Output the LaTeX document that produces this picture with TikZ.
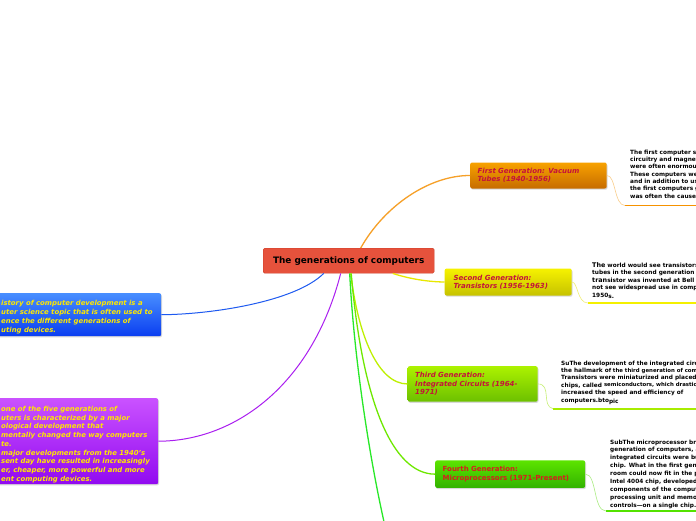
\documentclass[tikz,border=0pt]{standalone}
\usepackage{fontspec}
\setmainfont{DejaVu Sans}
\usetikzlibrary{shadows}
\definecolor{ctr}{RGB}{230,82,60}
\definecolor{ctrb}{RGB}{205,62,42}
\definecolor{lbl}{RGB}{196,18,58}
\definecolor{lblr}{RGB}{215,30,30}
\definecolor{oA}{RGB}{248,162,0}
\definecolor{oB}{RGB}{198,108,0}
\definecolor{yA}{RGB}{246,242,0}
\definecolor{yB}{RGB}{198,194,0}
\definecolor{gA}{RGB}{172,242,0}
\definecolor{gB}{RGB}{108,192,0}
\definecolor{fA}{RGB}{92,228,0}
\definecolor{fB}{RGB}{50,178,0}
\definecolor{bA}{RGB}{72,142,255}
\definecolor{bB}{RGB}{10,62,240}
\definecolor{pA}{RGB}{202,82,255}
\definecolor{pB}{RGB}{145,10,240}
\definecolor{ytxt}{RGB}{255,232,0}
\definecolor{lnO}{RGB}{246,160,40}
\definecolor{lnY}{RGB}{232,232,0}
\definecolor{lnG}{RGB}{190,240,0}
\definecolor{lnF}{RGB}{110,232,0}
\definecolor{lnV}{RGB}{40,232,40}
\definecolor{lnB}{RGB}{30,90,240}
\definecolor{lnP}{RGB}{170,30,240}
\definecolor{ulO}{RGB}{246,146,0}
\definecolor{ulY}{RGB}{244,240,0}
\definecolor{ulG}{RGB}{168,236,0}
\definecolor{ulF}{RGB}{84,226,0}
\definecolor{thO}{RGB}{250,206,140}
\definecolor{thY}{RGB}{240,238,120}
\definecolor{thG}{RGB}{200,240,120}
\definecolor{thF}{RGB}{170,236,130}
\tikzset{
  centralbox/.style={rounded corners=1.5pt, anchor=north west, fill=ctr, draw=ctrb, line width=0.4pt,
    minimum width=171pt, minimum height=25pt, inner sep=0pt, font=\fontsize{8.9}{10}\selectfont\bfseries},
  genbox/.style={rounded corners=2pt, anchor=north west, inner xsep=7.5pt, inner ysep=0pt, align=left,
    font=\fontsize{7}{8.3}\selectfont\bfseries\itshape, text=lbl,
    drop shadow={opacity=0.3,shadow xshift=0.8pt,shadow yshift=-1.2pt}},
  sidebox/.style={rounded corners=2pt, anchor=north west, inner sep=0pt,
    drop shadow={opacity=0.3,shadow xshift=0.8pt,shadow yshift=-1.2pt}},
  sidetext/.style={anchor=north west, inner sep=0pt, align=left, text=ytxt,
    font=\fontsize{6.9}{8.8}\selectfont\bfseries\itshape},
  detail/.style={anchor=north west, inner sep=0pt, align=left,
    font=\fontsize{5.8}{7.3}\selectfont\bfseries},
  mainline/.style={line width=1.3pt},
  thinline/.style={line width=0.6pt},
  underl/.style={line width=1.8pt}
}
\newcommand{\bigpart}[1]{{\fontsize{6.4}{7.3}\selectfont #1}}
\newcommand{\smallpart}[1]{{\fontsize{5.4}{7.3}\selectfont #1}}
\begin{document}
\begin{tikzpicture}[x=1pt,y=-1pt]
\useasboundingbox (0,0) rectangle (696,520);
\clip (0,0) rectangle (696,520);
\fill[white] (0,0) rectangle (696,520);

% left boxes
\node[sidebox, top color=bA, bottom color=bB, minimum width=166pt, minimum height=43pt] (blue) at (-5,293) {};
\node[sidetext] (bluetext) at (1,300.3) {istory of computer development is a\\uter science topic that is often used to\\ence the different generations of\\uting devices.};
\node[sidebox, top color=pA, bottom color=pB, minimum width=163pt, minimum height=86pt] (purple) at (-5,398) {};
\node[sidetext, font=\fontsize{6.9}{8.75}\selectfont\bfseries\itshape] (purpletext) at (1,405.8) {one of the five generations of\\uters is characterized by a major\\ological development that\\mentally changed the way computers\\te.\\major developments from the 1940's\\sent day have resulted in increasingly\\er, cheaper, more powerful and more\\ent computing devices.};

% central
\node[centralbox] (c) at (263,248) {The generations of computers};

% generation boxes
\node[genbox, top color=oA, bottom color=oB, minimum width=136.5pt, minimum height=26pt, text width=121.5pt] (g1) at (470,162.3) {First Generation: Vacuum\\Tubes (1940-1956)};
\node[genbox, top color=yA, bottom color=yB, minimum width=124pt, minimum height=27pt, text width=109pt, inner xsep=9pt] (g2) at (444.5,268.3) {Second Generation:\\Transistors (1956-1963)};
\node[genbox, top color=gA, bottom color=gB, minimum width=130pt, minimum height=35.5pt, text width=115pt] (g3) at (407.5,366) {Third Generation:\\Integrated Circuits (1964-\\1971)};
\node[genbox, top color=fA, bottom color=fB, minimum width=150pt, minimum height=27.5pt, text width=135pt, text=lblr, font=\fontsize{7}{8.6}\selectfont\bfseries] (g4) at (435,460.2) {Fourth Generation:\\Microprocessors (1971-Present)};

% detail texts
\node[detail] (d1) at (630,149.6) {The first computer systems used vacuum tubes for\\circuitry and magnetic drums for memory, and\\were often enormous, taking up entire rooms.\\These computers were very expensive to operate\\and in addition to using a great deal of electricity,\\the first computers generated a lot of heat, which\\was often the cause of malfunctions.};
\node[detail, font=\fontsize{5.8}{7.5}\selectfont\bfseries] (d2) at (592,262.2) {\bigpart{The} world would see transistors replace vacuum\\tubes in the second generation of computers. The\\\bigpart{tran}sistor was invented at Bell Labs in 1947 but did\\not see widespread use in computers until the late\\1950\raisebox{-1.3pt}{s.}};
\node[detail, font=\fontsize{5.8}{7.4}\selectfont\bfseries] (d3) at (561,360.5) {SuThe development of the integrated circuit was\\the hallmark o\smallpart{f the third generation of computers.}\\Transistors were miniaturized and placed on silicon\\chips, called \raisebox{0.6pt}{\smallpart{semiconductors, which drastically}}\\increased the speed and efficiency of\\computers.bto\raisebox{-1.2pt}{pic}};
\node[detail, font=\fontsize{5.8}{7.95}\selectfont\bfseries] (d4) at (610,439.4) {SubThe microprocessor brought the fourth\\generation of computers, as thousands of\\integrated circuits were built onto a single silicon\\chip. What in the first generation filled an entire\\room could now fit in the palm of the hand. The\\Intel 4004 chip, developed in 1971, located all the\\components of the computer---from the central\\processing unit and memory to input/output\\controls---on a single chip.};

% underlines
\coordinate (u1) at (625,205.5);
\coordinate (u2) at (588,303);
\coordinate (u3) at (553,408.7);
\coordinate (u4) at (606,511);
\draw[underl, ulO] (u1) -- (700,205.5);
\draw[underl, ulY] (u2) -- (700,303);
\draw[underl, ulG] (u3) -- (700,408.7);
\draw[underl, ulF] (u4) -- (700,511);

% thin connectors box -> detail
\draw[thinline, thO] (g1.east) .. controls (616,175.3) and (614,205.5) .. (u1);
\draw[thinline, thY] (g2.east) .. controls (578,281.8) and (577,303) .. (u2);
\draw[thinline, thG] (g3.east) .. controls (552,384) and (541,406) .. (u3);
\draw[thinline, thF] (g4.east) .. controls (597,474) and (593,511) .. (u4);

% main connectors
\coordinate (e5) at (384.5,524);
\draw[mainline, lnO] ([xshift=12pt]c.north) .. controls (385,205) and (430,175.3) .. (g1.west);
\draw[mainline, lnY] ([xshift=44pt]c.south) .. controls (410,279) and (428,281.8) .. (g2.west);
\draw[mainline, lnG] ([xshift=2pt]c.south) .. controls (358,335) and (378,384) .. (g3.west);
\draw[mainline, lnF] ([xshift=2.5pt]c.south) .. controls (362,400) and (392,474) .. (g4.west);
\draw[mainline, lnV] ([xshift=1pt]c.south) .. controls (354,360) and (370,460) .. (e5);
\draw[line width=1pt, lnB] ([xshift=-25pt]c.south) .. controls (295,302) and (210,314.5) .. (blue.east);
\draw[line width=1pt, lnP] ([xshift=-8pt]c.south) .. controls (312,385) and (235,441) .. (purple.east);
\end{tikzpicture}
\end{document}
